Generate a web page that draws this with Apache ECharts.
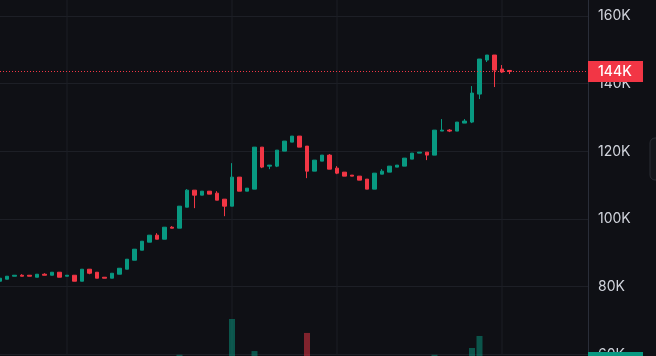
<!DOCTYPE html>
<html>
<head>
<meta charset="utf-8">
<script src="https://cdn.jsdelivr.net/npm/echarts@6/dist/echarts.min.js"></script>
<style>
  html, body { margin: 0; padding: 0; background: #0f1015; }
  #chart { width: 656px; height: 356px; }
</style>
</head>
<body>
<div id="chart"></div>
<script>
// Prices in thousands (K)
const opens  = [81.60,82.19,83.08,83.37,83.37,82.78,83.67,83.37,84.26,83.08,83.37,81.60,85.15,84.26,82.78,82.49,83.67,85.15,87.81,90.77,93.14,95.21,94.02,97.57,97.28,103.49,108.52,107.04,108.22,107.63,105.86,103.79,112.37,108.22,108.82,121.24,115.62,115.62,120.06,122.72,124.50,121.54,114.14,117.10,118.88,115.03,113.85,112.96,112.66,111.78,108.82,113.25,113.85,115.33,115.62,117.69,119.47,119.76,118.88,125.98,126.27,125.98,128.34,128.64,136.92,146.98,148.46,144.32,143.90];
const closes = [82.49,83.08,83.37,83.08,83.08,83.67,83.37,84.26,82.78,83.37,81.60,85.15,83.96,82.49,82.49,83.96,85.44,88.11,91.07,93.43,95.21,94.02,97.57,97.28,103.79,108.52,107.04,108.22,107.34,105.56,103.79,112.37,108.22,109.11,121.24,115.33,115.92,120.35,123.02,124.50,121.24,114.14,117.40,118.88,114.73,113.55,112.66,112.66,111.48,108.82,113.55,114.14,115.62,115.92,117.99,119.47,119.76,118.88,126.27,126.27,125.98,128.64,128.94,137.22,147.28,148.46,144.02,143.43,143.60];
const lows   = [81.60,82.19,83.08,83.08,83.08,82.78,83.37,83.37,82.78,83.08,81.60,81.60,83.67,82.49,82.49,82.49,83.67,85.15,87.81,90.77,93.14,94.02,94.02,97.28,97.28,103.49,103.20,107.04,107.34,105.56,100.83,103.79,108.22,108.22,108.82,115.03,114.73,115.33,120.06,122.72,121.24,112.07,114.14,117.10,114.73,113.25,112.66,112.66,111.48,108.82,108.82,113.25,113.85,115.33,115.62,117.69,119.47,117.40,118.88,125.98,125.68,125.98,128.34,128.34,135.44,146.39,138.99,143.14,142.84];
const highs  = [82.49,83.08,83.37,83.67,83.37,83.67,83.96,84.26,84.26,83.37,83.37,85.15,85.15,84.26,82.78,83.96,85.44,88.11,91.07,93.43,95.21,95.80,97.57,97.87,103.79,108.82,108.52,108.22,108.22,108.22,105.86,116.51,112.37,109.11,121.24,121.24,115.92,120.35,123.02,124.50,124.50,121.54,117.40,118.88,119.17,115.62,113.85,112.96,112.66,111.78,113.55,114.73,115.62,115.92,117.99,119.47,119.76,119.76,126.27,129.53,126.57,128.64,129.53,139.29,147.28,148.46,148.46,145.50,143.90];
const volumes = [22,20,15,14,13,16,14,17,21,15,25,30,22,24,16,20,23,28,31,29,27,22,30,18,52.8,45,40,24,20,26,38,83.6,42,28,56,44,25,33,30,27,31,71.6,35,26,34,29,24,18,22,33,40,24,23,19,25,26,17,24,52.8,30,21,28,24,58.6,69.0,35,48,30,46.1];
const gridLineIdx = [9, 31, 45, 67];

const UP = '#089981', DOWN = '#f23645';
const GRID = '#1d1f26';
const xMin = 0.0667, xMax = 78.467;

const candleData = opens.map((o, i) => [i, o, closes[i], lows[i], highs[i]]);
const volData = volumes.map((v, i) => ({
  value: [i, v],
  itemStyle: { color: closes[i] >= opens[i] ? 'rgba(8,153,129,0.5)' : 'rgba(242,54,69,0.5)' }
}));
const lastClose = closes[closes.length - 1];
const lastVol = volumes[volumes.length - 1];

const vLineSeries = gridLineIdx.map(ix => ({
  type: 'line', xAxisIndex: 0, yAxisIndex: 0, z: 1, silent: true,
  showSymbol: false, symbol: 'none', animation: false,
  lineStyle: { color: GRID, width: 1 },
  data: [[ix, 40], [ix, 200]]
}));

const chart = echarts.init(document.getElementById('chart'), null, { renderer: 'canvas' });
chart.setOption({
  backgroundColor: '#0f1015',
  animation: false,
  textStyle: { fontFamily: 'Inter' },
  grid: [
    { left: 0, right: 68, top: 0, bottom: 1.7, outerBoundsMode: 'none', containLabel: false },
    { left: 0, right: 68, top: 300, bottom: -60, outerBoundsMode: 'none', containLabel: false }
  ],
  xAxis: [
    { type: 'value', gridIndex: 0, min: xMin, max: xMax, show: false, splitLine: { show: false } },
    { type: 'value', gridIndex: 1, min: xMin, max: xMax, show: false, splitLine: { show: false } }
  ],
  yAxis: [
    {
      type: 'value', gridIndex: 0, position: 'right', min: 60, max: 164.73, interval: 20,
      axisLine: { show: true, lineStyle: { color: '#2a2e39' } },
      axisTick: { show: false },
      splitLine: { show: true, showMaxLine: false, lineStyle: { color: GRID, width: 1 } },
      axisLabel: {
        showMaxLabel: false, color: '#d1d4dc', fontSize: 14, fontFamily: 'Inter', margin: 10,
        formatter: v => v + 'K'
      }
    },
    { type: 'value', gridIndex: 1, min: 0, max: 100, show: false, splitLine: { show: false } }
  ],
  graphic: [
    { type: 'rect', shape: { x: 650, y: 138, width: 24, height: 42, r: 5 },
      style: { fill: '#15171c', stroke: '#2a2d34', lineWidth: 1 }, z: 10 }
  ],
  series: [
    ...vLineSeries,
    {
      type: 'bar', xAxisIndex: 1, yAxisIndex: 1, z: 2, barWidth: 6, silent: true,
      data: volData,
      markLine: {
        silent: true, symbol: ['none', 'none'], animation: false,
        lineStyle: { color: 'rgba(0,0,0,0)', width: 1 },
        label: {
          show: true, position: 'end', distance: 0, color: '#ffffff',
          backgroundColor: UP, padding: [3, 10, 3, 10], fontSize: 14, lineHeight: 15,
          width: 35, fontFamily: 'Inter',
          formatter: p => p.value.toFixed(1)
        },
        data: [{ yAxis: lastVol }]
      }
    },
    {
      type: 'candlestick', xAxisIndex: 0, yAxisIndex: 0, z: 3, barWidth: 4,
      encode: { x: 0, y: [1, 2, 3, 4] },
      itemStyle: { color: UP, color0: DOWN, borderColor: UP, borderColor0: DOWN, borderWidth: 1 },
      data: candleData,
      markLine: {
        silent: true, symbol: ['none', 'none'], animation: false,
        lineStyle: { color: DOWN, type: [1, 2], width: 1 },
        label: {
          show: true, position: 'end', distance: 0, color: '#ffffff',
          backgroundColor: DOWN, padding: [3, 10, 3, 10], fontSize: 14, lineHeight: 15,
          fontWeight: 500, width: 35, fontFamily: 'Inter',
          formatter: p => Math.round(p.value) + 'K'
        },
        data: [{ yAxis: lastClose }]
      }
    }
  ]
});
</script>
</body>
</html>
